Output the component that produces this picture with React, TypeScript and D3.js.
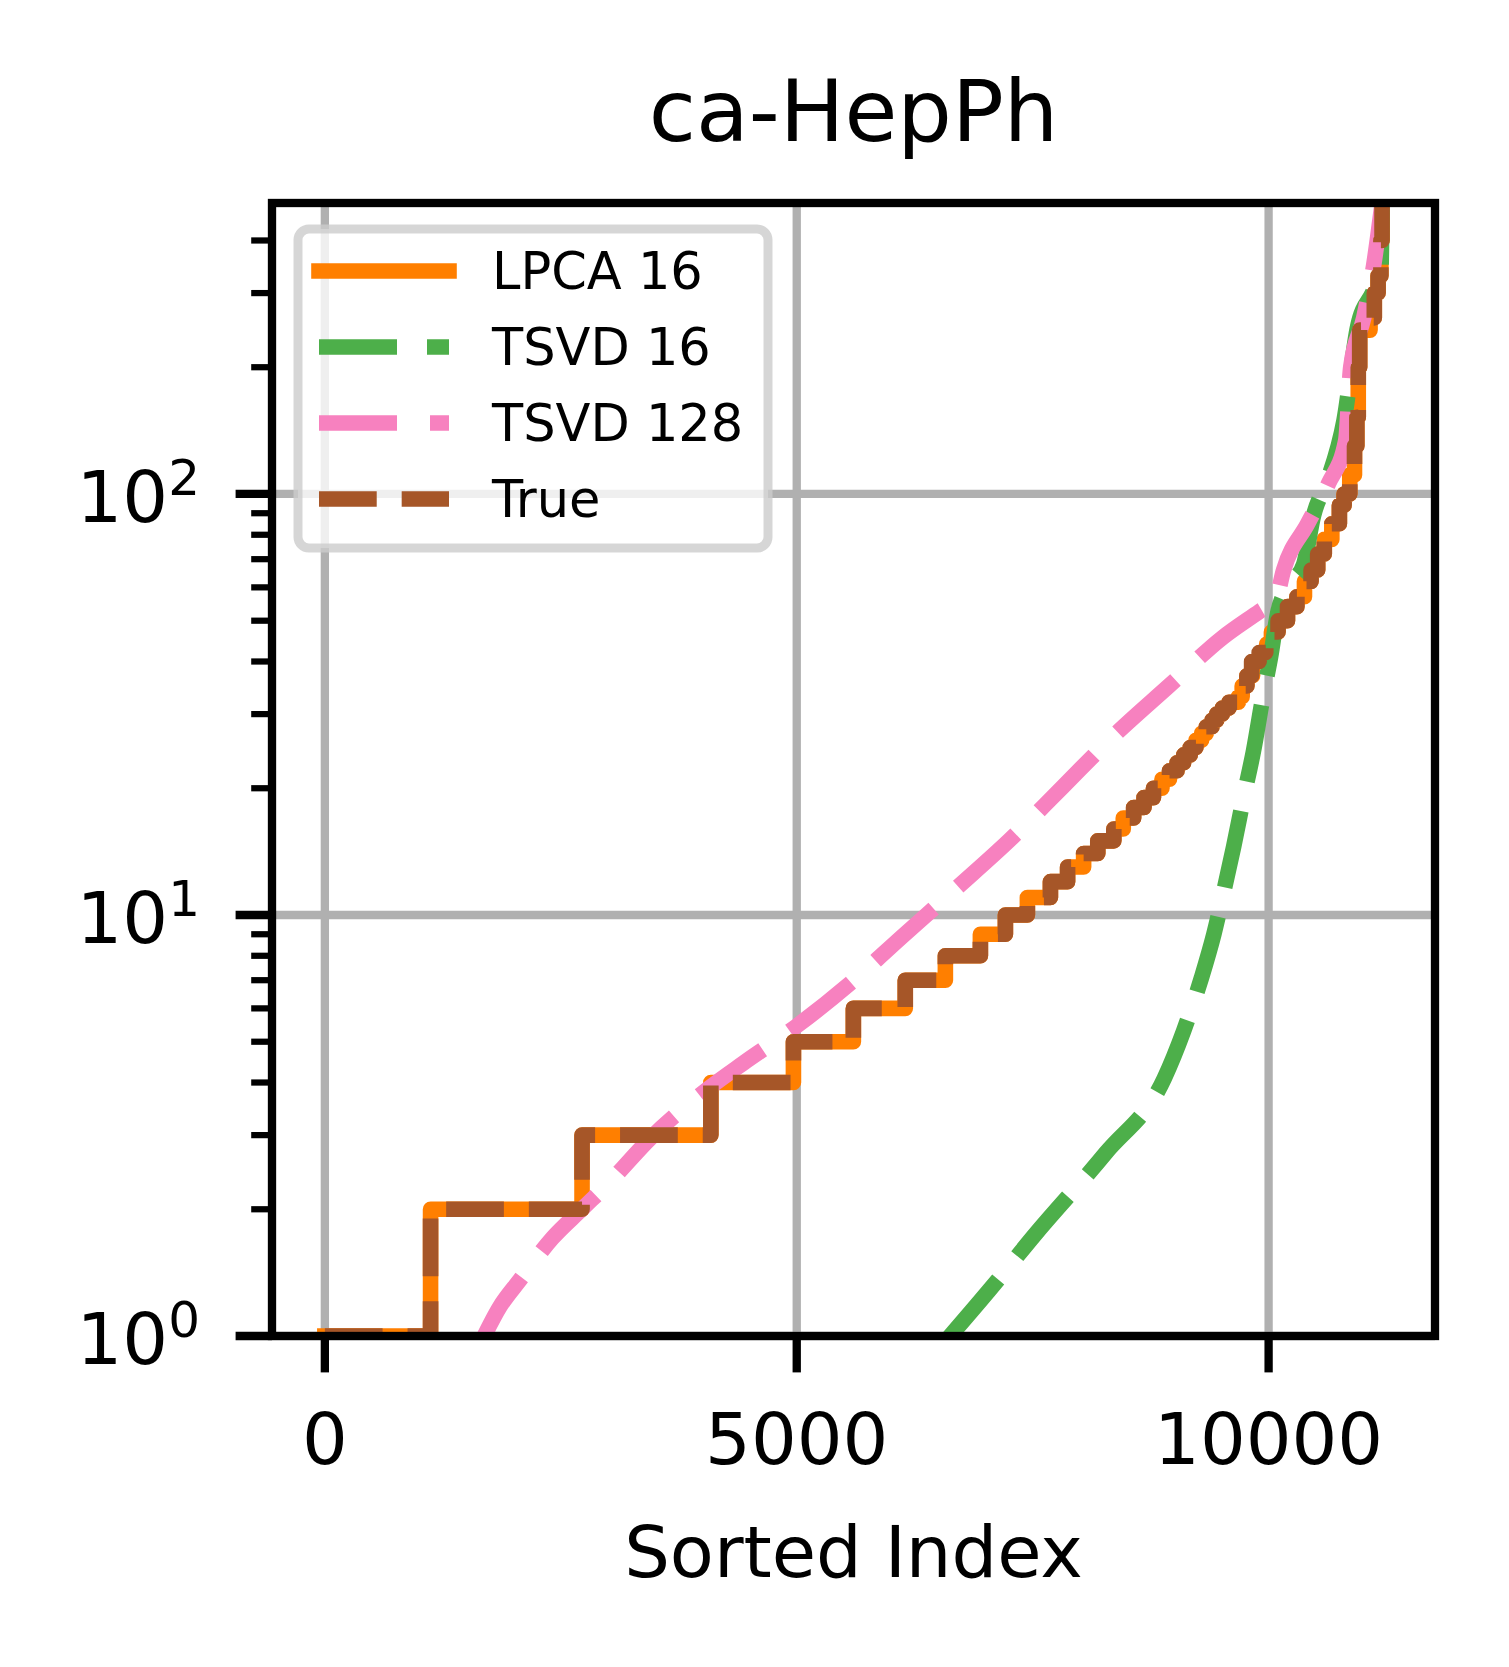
import * as d3 from "d3";

// figure geometry (px)
const W = 1509;
const H = 1667;
const M = { left: 272, right: 1435, top: 203, bottom: 1336 };
const PT = 10.4; // px per point

const N_NODES = 11204;

// sorted degree, step starts (index where each degree begins)
const trueStart = [
  0, 1120, 2725, 4090, 4965, 5600, 6150, 6575, 6946, 7211, 7444, 7688, 7870, 8040, 8190,
  8360, 8460, 8570, 8680, 8780, 8870, 8950, 9030, 9100, 9170, 9230, 9290, 9340, 9400,
  9450, 9510, 9580, 9680, 9720, 9770, 9820, 9900, 9970, 10030, 10100, 10200, 10300,
  10380, 10450, 10520, 10590, 10670, 10750, 10800, 10860, 10910, 10935, 10950, 10965,
  11075, 11120, 11160, 11190, 11202,
];
const trueDegree = [
  1, 2, 3, 4, 5, 6, 7, 8, 9, 10, 11, 12, 13, 14, 15,
  16, 17, 18, 19, 20, 21, 22, 23, 24, 25, 26, 27, 28, 29,
  30, 31, 32, 33, 35, 37, 40, 42, 44, 47, 50, 54, 57,
  62, 66, 72, 78, 85, 94, 100, 111, 130, 152, 200, 245,
  262, 300, 330, 400, 491,
];

// LPCA 16 reconstruction (almost identical to the true degrees)
const lpcaStart = [
  0, 1120, 2725, 4090, 4965, 5600, 6150, 6575, 6946, 7211, 7444, 7688, 7870, 8040, 8190,
  8360, 8460, 8570, 8680, 8780, 8870, 8950, 9030, 9100, 9170, 9230, 9290, 9340, 9400,
  9450, 9510, 9580, 9680, 9720, 9770, 9830, 9910, 9980, 10030, 10100, 10200, 10300,
  10380, 10450, 10520, 10590, 10670, 10750, 10800, 10860, 10910, 10935, 10950, 10965,
  11075, 11120, 11160, 11190, 11202,
];
const lpcaDegree = [
  1, 2, 3, 4, 5, 6, 7, 8, 9, 10, 11, 12, 13, 14, 15,
  16, 17, 18, 19, 20, 21, 22, 23, 24, 25, 26, 27, 28, 29,
  30, 31, 32, 33, 35, 37, 40, 42, 44, 47, 50, 54, 57,
  62, 66, 72, 78, 85, 94, 100, 111, 130, 152, 200, 245,
  262, 300, 330, 400, 491,
];

// TSVD 16 reconstruction
const tsvd16Index = [
  6600, 7034, 7542, 8274, 8894, 9099, 9289, 9420, 9530, 9629, 9735, 9841, 9947,
  10021, 10095, 10200, 10371, 10477, 10626, 10800, 10944, 11100, 11188, 11203,
];
const tsvd16Value = [
  0.985, 1.28, 1.76, 2.72, 4.09, 5.3, 7.1, 9.0, 11.5, 14.5, 19.0, 24.6, 33.7,
  41, 52, 60, 68, 89, 108, 150, 250, 300, 330, 491,
];

// TSVD 128 reconstruction
const tsvd128Index = [
  1650, 1851, 2068, 2413, 2722, 3000, 3450, 4083, 4442, 5005, 5569, 6133, 6696, 7260,
  7823, 8386, 8950, 9512, 9908, 10074, 10159, 10414, 10636, 10817, 10870, 11008, 11114,
  11203,
];
const tsvd128Value = [
  0.96, 1.17, 1.36, 1.71, 2.0, 2.3, 2.95, 3.9, 4.46, 5.46, 6.89, 8.95, 11.6, 15.1,
  20.2, 27, 35.1, 45.6, 52.7, 56, 66, 85, 106, 134, 200, 262, 350,
  491,
];

const xTicks = [0, 5000, 10000];
const yTicks = [1, 10, 100];
const yTickExp = ["0", "1", "2"];
const seriesNames = ["LPCA 16", "TSVD 16", "TSVD 128", "True"];
const seriesColors = ["#ff7f00", "#4daf4a", "#f781bf", "#a65628"];

const LW = 1.5 * PT;
const seriesDash = ["none", "78 30", "78 33", `${3.7 * LW} ${1.6 * LW}`];

type Pt = [number, number];

export default function App() {
  const last = N_NODES - 1;
  const pad = last * 0.05;
  const x = d3.scaleLinear().domain([-pad, last + pad]).range([M.left, M.right]);
  const y = d3.scaleLog().domain([1, 491]).range([M.bottom, M.top]);

  const stepLine = d3
    .line<Pt>()
    .x((d) => x(d[0]))
    .y((d) => y(d[1]))
    .curve(d3.curveStepAfter);
  const smoothLine = d3
    .line<Pt>()
    .x((d) => x(d[0]))
    .y((d) => y(d[1]))
    .curve(d3.curveMonotoneX);

  const stepPts = (s: number[], v: number[]): Pt[] => {
    const p: Pt[] = s.map((si, i) => [si, v[i]] as Pt);
    p.push([last, v[v.length - 1]]);
    return p;
  };

  const paths = [
    stepLine(stepPts(lpcaStart, lpcaDegree)),
    smoothLine(tsvd16Index.map((xi, i) => [xi, tsvd16Value[i]] as Pt)),
    smoothLine(tsvd128Index.map((xi, i) => [xi, tsvd128Value[i]] as Pt)),
    stepLine(stepPts(trueStart, trueDegree)),
  ];

  const minorTicks = y.ticks().filter((t) => !yTicks.includes(t));

  const font = "DejaVu Sans, sans-serif";
  const cx = (M.left + M.right) / 2;

  // legend layout
  const lg = { x: 298, y: 229, w: 470, h: 319 };
  const rowY = [271, 347, 423, 499];
  const hx0 = 319;
  const hx1 = 449;

  return (
    <svg width={W} height={H} style={{ display: "block", background: "#fff" }} fontFamily={font}>
      <style>{"body{margin:0}"}</style>
      <defs>
        <clipPath id="plot">
          <rect x={M.left} y={M.top} width={M.right - M.left} height={M.bottom - M.top} />
        </clipPath>
      </defs>

      {/* title */}
      <text x={cx} y={141} textAnchor="middle" fontSize={86}>
        ca-HepPh
      </text>

      {/* grid */}
      <g stroke="#b0b0b0" strokeWidth={0.8 * PT}>
        {xTicks.map((t) => (
          <line key={`gx${t}`} x1={x(t)} x2={x(t)} y1={M.top} y2={M.bottom} />
        ))}
        {yTicks.map((t) => (
          <line key={`gy${t}`} x1={M.left} x2={M.right} y1={y(t)} y2={y(t)} />
        ))}
      </g>

      {/* curves */}
      <g clipPath="url(#plot)" fill="none" strokeLinejoin="round">
        {paths.map((d, i) => (
          <path
            key={seriesNames[i]}
            d={d ?? ""}
            stroke={seriesColors[i]}
            strokeWidth={LW}
            strokeDasharray={seriesDash[i]}
            strokeLinecap={i === 0 ? "square" : "butt"}
          />
        ))}
      </g>

      {/* spines */}
      <rect
        x={M.left}
        y={M.top}
        width={M.right - M.left}
        height={M.bottom - M.top}
        fill="none"
        stroke="#000"
        strokeWidth={0.8 * PT}
        strokeLinecap="square"
      />

      {/* x ticks */}
      <g>
        {xTicks.map((t) => (
          <g key={`xt${t}`}>
            <line x1={x(t)} x2={x(t)} y1={M.bottom} y2={M.bottom + 3.5 * PT} stroke="#000" strokeWidth={0.8 * PT} />
            <text x={x(t)} y={1464} textAnchor="middle" fontSize={72}>
              {t}
            </text>
          </g>
        ))}
      </g>
      <text x={cx} y={1577} textAnchor="middle" fontSize={72}>
        Sorted Index
      </text>

      {/* y ticks */}
      <g>
        {minorTicks.map((t) => (
          <line key={`ym${t}`} x1={M.left - 2 * PT} x2={M.left} y1={y(t)} y2={y(t)} stroke="#000" strokeWidth={0.6 * PT} />
        ))}
        {yTicks.map((t, i) => (
          <g key={`yt${t}`}>
            <line x1={M.left - 3.5 * PT} x2={M.left} y1={y(t)} y2={y(t)} stroke="#000" strokeWidth={0.8 * PT} />
            <text x={200} y={y(t) + 28} textAnchor="end" fontSize={72}>
              10
              <tspan dy={-27} fontSize={50}>
                {yTickExp[i]}
              </tspan>
            </text>
          </g>
        ))}
      </g>

      {/* legend */}
      <g>
        <rect
          x={lg.x}
          y={lg.y}
          width={lg.w}
          height={lg.h}
          rx={11}
          fill="#fff"
          fillOpacity={0.8}
          stroke="#cccccc"
          strokeOpacity={0.8}
          strokeWidth={9}
        />
        {seriesNames.map((name, i) => (
          <g key={`lg${name}`}>
            <line
              x1={hx0}
              x2={hx1}
              y1={rowY[i]}
              y2={rowY[i]}
              stroke={seriesColors[i]}
              strokeWidth={LW}
              strokeDasharray={seriesDash[i]}
              strokeLinecap={i === 0 ? "square" : "butt"}
            />
            <text x={492} y={rowY[i] + 18} fontSize={51}>
              {name}
            </text>
          </g>
        ))}
      </g>
    </svg>
  );
}
